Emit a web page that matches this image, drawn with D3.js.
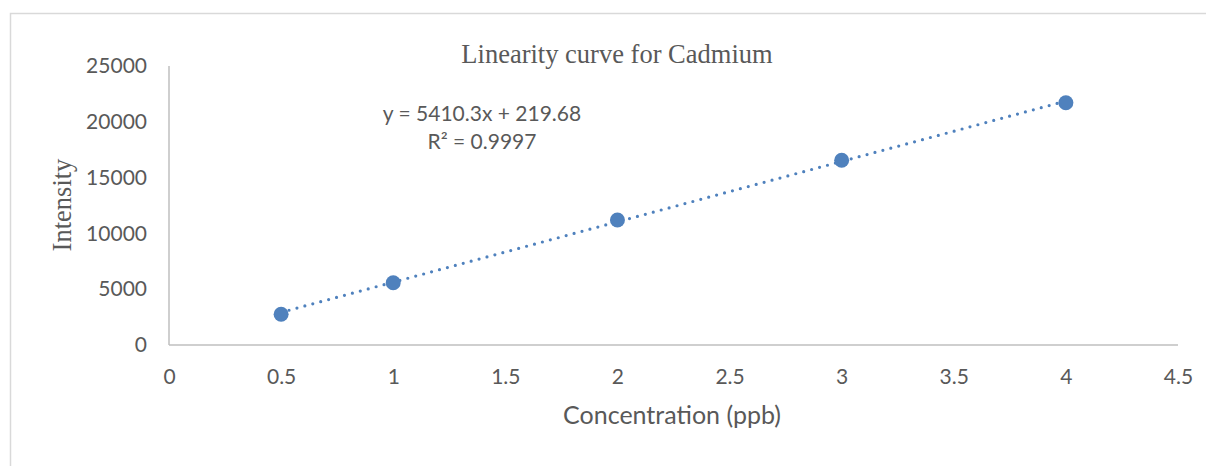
<!DOCTYPE html>
<html>
<head>
<meta charset="utf-8">
<script src="https://cdn.jsdelivr.net/npm/d3@7"></script>
<style>
  body { margin: 0; background: #fff; }
  svg { display: block; }
</style>
</head>
<body>
<svg id="chart" width="1206" height="466"></svg>
<script>
// values
var concentration = [0.5, 1, 2, 3, 4];
var intensity = [2750, 5580, 11200, 16550, 21710];
var xTicks = [0, 0.5, 1, 1.5, 2, 2.5, 3, 3.5, 4, 4.5];
var yTicks = [0, 5000, 10000, 15000, 20000, 25000];
var trendSlope = 5410.3;
var trendIntercept = 219.68;
var rSquared = "0.9997";

var svg = d3.select("#chart"),
    width = +svg.attr("width"),
    height = +svg.attr("height");

var blue = "#4f81bd";
var grey = "#595959";
var sans = "Lato, 'Open Sans', sans-serif";
var serif = "'Liberation Serif', 'DejaVu Serif', serif";

// outer chart frame
svg.append("rect")
    .attr("x", 10.5)
    .attr("y", 13.5)
    .attr("width", width + 20)
    .attr("height", height + 20)
    .attr("fill", "none")
    .attr("stroke", "#d9d9d9")
    .attr("stroke-width", 1.5);

var x = d3.scaleLinear().domain([0, 4.5]).range([169, 1178]);
var y = d3.scaleLinear().domain([0, 25000]).range([345, 66]);

// axes
var xAxis = svg.append("g")
    .attr("transform", "translate(0," + y(0) + ")")
    .call(d3.axisBottom(x).tickValues(xTicks).tickSize(0).tickPadding(24)
      .tickFormat(function(d) { return d; }));

var yAxis = svg.append("g")
    .attr("transform", "translate(" + x(0) + ",0)")
    .call(d3.axisLeft(y).tickValues(yTicks).tickSize(0).tickPadding(22)
      .tickFormat(function(d) { return d; }));

[xAxis, yAxis].forEach(function(g) {
  g.select(".domain").attr("stroke", "#bfbfbf").attr("stroke-width", 1.5);
  g.selectAll("text")
    .attr("fill", grey)
    .style("font-family", sans)
    .style("font-size", "21px");
});
xAxis.select(".domain").attr("d", "M" + x(0) + ",0H" + x(4.5));
yAxis.select(".domain").attr("d", "M0," + y(25000) + "V" + y(0));

// trendline (dotted)
var xMin = d3.min(concentration), xMax = d3.max(concentration);
svg.append("line")
    .attr("x1", x(xMin))
    .attr("y1", y(trendSlope * xMin + trendIntercept))
    .attr("x2", x(xMax))
    .attr("y2", y(trendSlope * xMax + trendIntercept))
    .attr("stroke", blue)
    .attr("stroke-width", 3.2)
    .attr("stroke-linecap", "round")
    .attr("stroke-dasharray", "0 8.2");

// points
svg.append("g")
  .selectAll("circle")
  .data(concentration)
  .enter().append("circle")
    .attr("cx", function(d) { return x(d); })
    .attr("cy", function(d, i) { return y(intensity[i]); })
    .attr("r", 7.5)
    .attr("fill", blue);

// title
svg.append("text")
    .attr("x", 617)
    .attr("y", 63)
    .attr("text-anchor", "middle")
    .attr("fill", grey)
    .style("font-family", serif)
    .style("font-size", "26.5px")
    .text("Linearity curve for Cadmium");

// axis titles
svg.append("text")
    .attr("transform", "translate(71,205) rotate(-90)")
    .attr("text-anchor", "middle")
    .attr("fill", grey)
    .style("font-family", serif)
    .style("font-size", "26.5px")
    .text("Intensity");

svg.append("text")
    .attr("x", 672)
    .attr("y", 424)
    .attr("text-anchor", "middle")
    .attr("fill", grey)
    .style("font-family", sans)
    .style("font-size", "25px")
    .text("Concentration (ppb)");

// trendline equation
var eq = svg.append("text")
    .attr("text-anchor", "middle")
    .attr("fill", grey)
    .style("font-family", sans)
    .style("font-size", "21px");
eq.append("tspan")
    .attr("x", 482)
    .attr("y", 121)
    .text("y = " + trendSlope + "x + " + trendIntercept);
eq.append("tspan")
    .attr("x", 482)
    .attr("y", 149)
    .text("R² = " + rSquared);
</script>
</body>
</html>
